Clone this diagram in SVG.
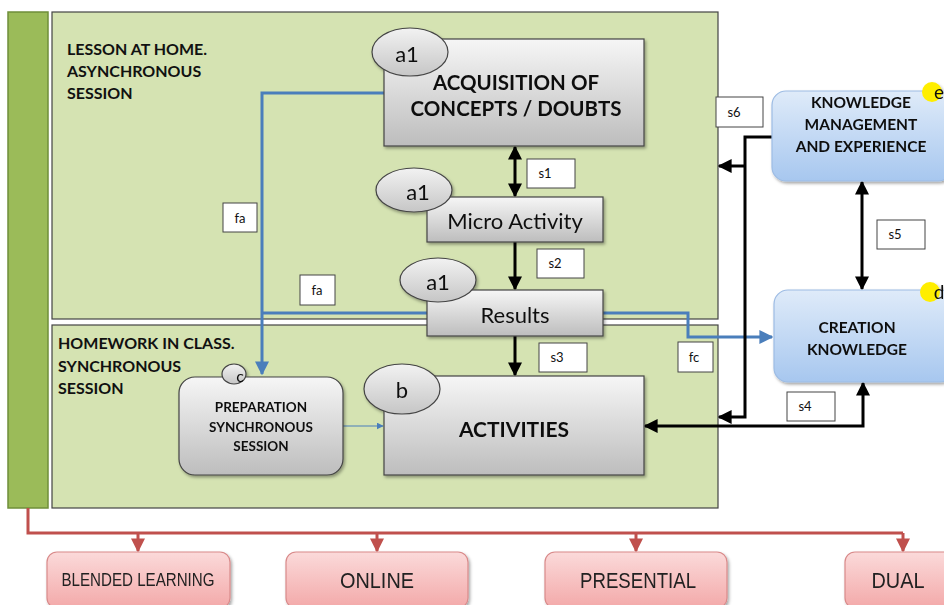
<svg xmlns="http://www.w3.org/2000/svg" width="944" height="605" viewBox="0 0 944 605">
<defs>
<linearGradient id="gGrey" x1="0" y1="0" x2="0" y2="1"><stop offset="0" stop-color="#f6f6f6"/><stop offset="1" stop-color="#bdbdbd"/></linearGradient>
<linearGradient id="gEll" x1="0" y1="0" x2="0" y2="1"><stop offset="0" stop-color="#f2f2f2"/><stop offset="1" stop-color="#c6c6c6"/></linearGradient>
<linearGradient id="gBlue" x1="0" y1="0" x2="0" y2="1"><stop offset="0" stop-color="#dfebf9"/><stop offset="1" stop-color="#a7c7ef"/></linearGradient>
<linearGradient id="gPink" x1="0" y1="0" x2="0" y2="1"><stop offset="0" stop-color="#fbdada"/><stop offset="1" stop-color="#f3a9a9"/></linearGradient>
<filter id="sh" x="-10%" y="-10%" width="130%" height="130%"><feDropShadow dx="1.5" dy="2" stdDeviation="1.5" flood-color="#000" flood-opacity="0.35"/></filter>
<marker id="ab" viewBox="0 0 10 10" refX="9" refY="5" markerWidth="14" markerHeight="14" markerUnits="userSpaceOnUse" orient="auto-start-reverse"><path d="M0,0 L10,5 L0,10 z" fill="#000"/></marker>
<marker id="abl" viewBox="0 0 10 10" refX="9" refY="5" markerWidth="14" markerHeight="14" markerUnits="userSpaceOnUse" orient="auto"><path d="M0,0 L10,5 L0,10 z" fill="#4a7ebb"/></marker>
<marker id="abls" viewBox="0 0 10 10" refX="9" refY="5" markerWidth="7" markerHeight="7" markerUnits="userSpaceOnUse" orient="auto"><path d="M0,0 L10,5 L0,10 z" fill="#4a7ebb"/></marker>
<marker id="ar" viewBox="0 0 10 10" refX="9" refY="5" markerWidth="16" markerHeight="14" markerUnits="userSpaceOnUse" orient="auto"><path d="M0,0 L10,5 L0,10 z" fill="#c0504d"/></marker>
</defs>
<style>
.panel{fill:#d5e3b2;stroke:#444;stroke-width:1.2}
.grey{fill:url(#gGrey);stroke:#444;stroke-width:1.2}
.ell{fill:url(#gEll);stroke:#444;stroke-width:1.2}
.blue{fill:url(#gBlue);stroke:#9dbce4;stroke-width:1.2}
.pink{fill:url(#gPink);stroke:#d98a8a;stroke-width:1.2}
.lbl{fill:#fff;stroke:#444;stroke-width:1}
.t{font-family:"Lato","Liberation Sans",sans-serif;fill:#111;text-anchor:middle;dominant-baseline:central}
.b{font-weight:bold}
.tl{font-family:"Lato","Liberation Sans",sans-serif;fill:#111;font-weight:bold;font-size:16px;dominant-baseline:central}
.sm{font-size:13px}
.nar{font-family:"Liberation Sans",sans-serif;fill:#222;text-anchor:middle;dominant-baseline:central}
.blk{fill:none;stroke:#000;stroke-width:3}
.bl{fill:none;stroke:#4a7ebb;stroke-width:3}
.rd{fill:none;stroke:#c0504d;stroke-width:3}
</style>

<g id="sidebar"><rect x="8" y="12" width="40" height="496" fill="#9bbb59" stroke="#6f8f3a" stroke-width="1.5"/></g>

<g id="panel-home">
<rect class="panel" x="52" y="12" width="666" height="307"/>
<text class="tl" x="67" y="48">LESSON AT HOME.</text>
<text class="tl" x="67" y="70">ASYNCHRONOUS</text>
<text class="tl" x="67" y="92">SESSION</text>
</g>
<g id="panel-class">
<rect class="panel" x="52" y="325" width="666" height="183"/>
<text class="tl" x="58" y="342">HOMEWORK IN CLASS.</text>
<text class="tl" x="58" y="365">SYNCHRONOUS</text>
<text class="tl" x="58" y="387">SESSION</text>
</g>

<g id="connectors">
<path class="bl" d="M384,93 H262 V374" marker-end="url(#abl)"/>
<path class="bl" d="M427,313 H262"/>
<path class="bl" d="M603,313 H688 V337 H772" marker-end="url(#abl)"/>
<path d="M343,426 H383" stroke="#4a7ebb" stroke-width="1.2" fill="none" marker-end="url(#abls)"/>
<path class="blk" d="M515,147 V196" marker-start="url(#ab)" marker-end="url(#ab)"/>
<path class="blk" d="M515,242 V289" marker-end="url(#ab)"/>
<path class="blk" d="M515,336 V375" marker-end="url(#ab)"/>
<path class="blk" d="M862,182 V289" marker-start="url(#ab)" marker-end="url(#ab)"/>
<path class="blk" d="M645,426 H863 V383" marker-start="url(#ab)" marker-end="url(#ab)"/>
<path class="blk" d="M772,137 H745 V417 H719" marker-end="url(#ab)"/>
<path class="blk" d="M745,166 H719" marker-end="url(#ab)"/>
<path class="rd" d="M28,508 V533 H903"/>
<path class="rd" d="M138,533 V551" marker-end="url(#ar)"/>
<path class="rd" d="M377,533 V551" marker-end="url(#ar)"/>
<path class="rd" d="M636,533 V551" marker-end="url(#ar)"/>
<path class="rd" d="M903,533 V551" marker-end="url(#ar)"/>
<g id="labels">
<rect class="lbl" x="527" y="159" width="48" height="29"/><text class="t sm" x="545" y="173">s1</text>
<rect class="lbl" x="537" y="249" width="47" height="29"/><text class="t sm" x="555" y="263">s2</text>
<rect class="lbl" x="539" y="343" width="48" height="29"/><text class="t sm" x="557" y="357">s3</text>
<rect class="lbl" x="787" y="392" width="48" height="29"/><text class="t sm" x="805" y="406">s4</text>
<rect class="lbl" x="877" y="220" width="48" height="29"/><text class="t sm" x="895" y="234">s5</text>
<rect class="lbl" x="716" y="97" width="47" height="30"/><text class="t sm" x="734" y="112">s6</text>
<rect class="lbl" x="223" y="203" width="34" height="29"/><text class="t sm" x="240" y="218">fa</text>
<rect class="lbl" x="300" y="275" width="35" height="30"/><text class="t sm" x="317" y="290">fa</text>
<rect class="lbl" x="678" y="342" width="35" height="30"/><text class="t sm" x="694" y="357">fc</text>
</g>
</g>

<g id="acquisition" filter="url(#sh)">
<rect class="grey" x="384" y="39" width="260" height="107"/>
<ellipse class="ell" cx="410" cy="52" rx="38" ry="24"/>
<text class="t" x="407" y="53" font-size="22">a1</text>
<text class="t b" x="516" y="82" font-size="20.5">ACQUISITION OF</text>
<text class="t b" x="516" y="108" font-size="20.5">CONCEPTS / DOUBTS</text>
</g>
<g id="micro-activity" filter="url(#sh)">
<rect class="grey" x="427" y="197" width="176" height="45"/>
<ellipse class="ell" cx="414" cy="190" rx="38" ry="22"/>
<text class="t" x="418" y="191" font-size="22">a1</text>
<text class="t" x="515" y="220" font-size="22">Micro Activity</text>
</g>
<g id="results" filter="url(#sh)">
<rect class="grey" x="427" y="290" width="176" height="46"/>
<ellipse class="ell" cx="438" cy="280" rx="38" ry="22"/>
<text class="t" x="438" y="281" font-size="22">a1</text>
<text class="t" x="515" y="314" font-size="22">Results</text>
</g>
<g id="activities" filter="url(#sh)">
<rect class="grey" x="384" y="376" width="260" height="99"/>
<ellipse class="ell" cx="402" cy="389" rx="38" ry="25"/>
<text class="t" x="402" y="389" font-size="22">b</text>
<text class="t b" x="514" y="428" font-size="21">ACTIVITIES</text>
</g>
<g id="preparation" filter="url(#sh)">
<rect class="grey" x="179" y="377" width="164" height="98" rx="16"/>
<ellipse class="ell" cx="234" cy="374" rx="12" ry="10"/>
<text class="t" x="240" y="375" font-size="16">c</text>
<text class="t b" x="261" y="407" font-size="13.5">PREPARATION</text>
<text class="t b" x="261" y="427" font-size="13.5">SYNCHRONOUS</text>
<text class="t b" x="261" y="446" font-size="13.5">SESSION</text>
</g>
<g id="knowledge-management" filter="url(#sh)">
<rect class="blue" x="772" y="91" width="180" height="90" rx="14"/>
<circle cx="932" cy="92" r="10" fill="#ffee00"/>
<text class="t" x="939" y="91" font-size="19">e</text>
<text class="t b" x="861" y="102" font-size="15.5">KNOWLEDGE</text>
<text class="t b" x="861" y="124" font-size="15.5">MANAGEMENT</text>
<text class="t b" x="861" y="146" font-size="15.5">AND EXPERIENCE</text>
</g>
<g id="creation-knowledge" filter="url(#sh)">
<rect class="blue" x="774" y="290" width="180" height="92" rx="14"/>
<circle cx="930" cy="292" r="10" fill="#ffee00"/>
<text class="t" x="939" y="291" font-size="19">d</text>
<text class="t b" x="857" y="327" font-size="15.5">CREATION</text>
<text class="t b" x="857" y="349" font-size="15.5">KNOWLEDGE</text>
</g>

<g id="blended" filter="url(#sh)"><rect class="pink" x="47" y="552" width="183" height="56" rx="10"/><text class="nar" x="138" y="580" font-size="18" textLength="153" lengthAdjust="spacingAndGlyphs">BLENDED LEARNING</text></g>
<g id="online" filter="url(#sh)"><rect class="pink" x="286" y="552" width="182" height="56" rx="10"/><text class="nar" x="377" y="580" font-size="22" textLength="74" lengthAdjust="spacingAndGlyphs">ONLINE</text></g>
<g id="presential" filter="url(#sh)"><rect class="pink" x="545" y="552" width="182" height="56" rx="10"/><text class="nar" x="638" y="580" font-size="22" textLength="116" lengthAdjust="spacingAndGlyphs">PRESENTIAL</text></g>
<g id="dual" filter="url(#sh)"><rect class="pink" x="845" y="552" width="120" height="56" rx="10"/><text class="nar" x="898" y="580" font-size="22" textLength="53" lengthAdjust="spacingAndGlyphs">DUAL</text></g>
</svg>
